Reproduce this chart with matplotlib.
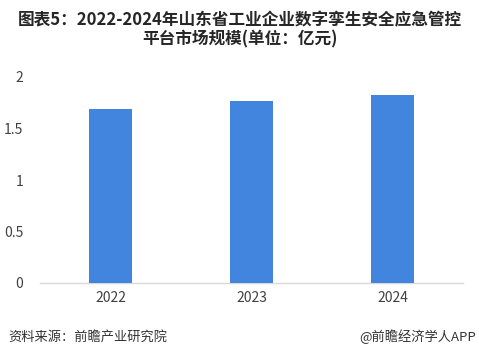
import matplotlib
matplotlib.use("Agg")
import matplotlib.pyplot as plt

plt.rcParams['font.family'] = ['Noto Sans CJK SC', 'DejaVu Sans']

categories = ["2022", "2023", "2024"]
values = [1.69, 1.77, 1.83]
yticks = [0, 0.5, 1, 1.5, 2]
ytick_labels = ["0", "0.5", "1", "1.5", "2"]

fig = plt.figure(figsize=(4.79, 3.58), dpi=100)
ax = fig.add_axes([40/479, 75/358, 423/479, 206/358])

x = range(len(categories))
ax.bar(x, values, width=0.31, color="#4285de", zorder=3)
ax.set_xlim(-0.5, 2.5)
ax.set_ylim(0, 2)
ax.set_xticks(list(x))
ax.set_xticklabels(categories, fontsize=10, color="#404040")
ax.set_yticks(yticks)
ax.set_yticklabels(ytick_labels, fontsize=10, color="#404040")
ax.tick_params(axis='both', length=0)
ax.tick_params(axis='y', pad=12)
ax.tick_params(axis='x', pad=6)
for s in ["top", "right", "left"]:
    ax.spines[s].set_visible(False)
ax.spines["bottom"].set_color("#d9d9d9")
ax.spines["bottom"].set_linewidth(1)

fig.text(0.5, 1 - 20/358, "图表5：2022-2024年山东省工业企业数字孪生安全应急管控",
         ha="center", va="center", fontsize=12, fontweight="bold", color="#262626")
fig.text(0.5, 1 - 39/358, "平台市场规模(单位：亿元)",
         ha="center", va="center", fontsize=12, fontweight="bold", color="#262626")

fig.text(8/479, 1 - 337/358, "资料来源：前瞻产业研究院", ha="left", va="center",
         fontsize=9.5, color="#333333")
fig.text(476/479, 1 - 337/358, "@前瞻经济学人APP", ha="right", va="center",
         fontsize=9.5, color="#333333")

fig.savefig("out.png", dpi=100)
